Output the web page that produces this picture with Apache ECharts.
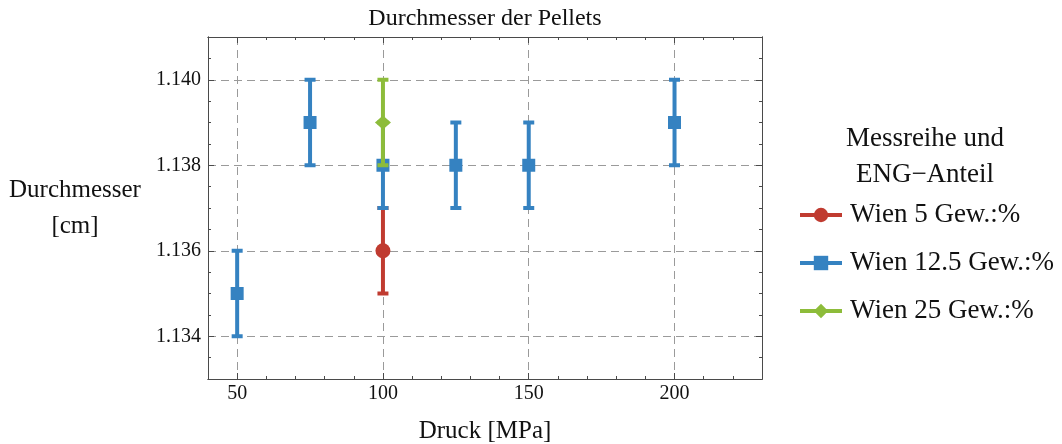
<!DOCTYPE html>
<html>
<head>
<meta charset="utf-8">
<script src="https://cdn.jsdelivr.net/npm/echarts@6/dist/echarts.min.js"></script>
<style>html,body{margin:0;padding:0;background:#fff}#c{width:1062px;height:444px}</style>
</head>
<body>
<div id="c"></div>
<script>
// ---- data ----
const seriesNames = ['Wien 5 Gew.:%', 'Wien 12.5 Gew.:%', 'Wien 25 Gew.:%'];
const pressure5 = [100];
const diameter5 = [1.136];
const error5 = [0.001];
const pressure12 = [50, 75, 100, 125, 150, 200];
const diameter12 = [1.135, 1.139, 1.138, 1.138, 1.138, 1.139];
const error12 = [0.001, 0.001, 0.001, 0.001, 0.001, 0.001];
const pressure25 = [100];
const diameter25 = [1.139];
const error25 = [0.001];
const xMajorTicks = [50, 100, 150, 200];
const yMajorTicks = [1.134, 1.136, 1.138, 1.140];

const colors = ['#c03b30', '#3582c1', '#8dbc3a'];
const symbols = ['circle', 'rect', 'diamond'];
const symbolSizes = [15, 13, [16, 14]];
const FONT = 'Liberation Serif';
const frameColor = '#4a4a4a';

const groups = [
  [pressure5, diameter5, error5],
  [pressure12, diameter12, error12],
  [pressure25, diameter25, error25]
];

function errRender(color) {
  return function (params, api) {
    const x = api.value(0), y = api.value(1), e = api.value(2);
    const top = api.coord([x, y + e]);
    const bot = api.coord([x, y - e]);
    const st = { stroke: color, lineWidth: 4 };
    const hw = 5.5;
    return {
      type: 'group',
      children: [
        { type: 'line', shape: { x1: top[0], y1: top[1], x2: bot[0], y2: bot[1] }, style: st },
        { type: 'line', shape: { x1: top[0] - hw, y1: top[1], x2: top[0] + hw, y2: top[1] }, style: st },
        { type: 'line', shape: { x1: bot[0] - hw, y1: bot[1], x2: bot[0] + hw, y2: bot[1] }, style: st }
      ]
    };
  };
}

const series = [];
groups.forEach(function (g, i) {
  const [xs, ys, es] = g;
  series.push({
    name: 'err' + i,
    type: 'custom',
    xAxisIndex: 0, yAxisIndex: 0,
    renderItem: errRender(colors[i]),
    data: xs.map(function (x, k) { return [x, ys[k], es[k]]; }),
    z: 2 + i * 2
  });
  series.push({
    name: seriesNames[i],
    type: 'line',
    xAxisIndex: 0, yAxisIndex: 0,
    symbol: symbols[i],
    symbolSize: symbolSizes[i],
    showSymbol: true,
    itemStyle: { color: colors[i], opacity: 1 },
    lineStyle: { color: colors[i], width: 4, opacity: 0 },
    data: xs.map(function (x, k) { return [x, ys[k]]; }),
    z: 3 + i * 2
  });
});

const xMin = 40, xMax = 230, yMin = 1.133, yMax = 1.141;

function xAxisDef(pos, major, labels) {
  return {
    type: 'value', position: pos, min: xMin, max: xMax, interval: 10,
    axisLine: { show: true, onZero: false, lineStyle: { color: frameColor, width: 1 } },
    axisTick: major
      ? { show: true, inside: true, length: 6, customValues: xMajorTicks, lineStyle: { color: frameColor } }
      : { show: true, inside: true, length: 3, lineStyle: { color: frameColor } },
    axisLabel: labels
      ? { show: true, customValues: xMajorTicks, color: '#111', fontFamily: FONT, fontSize: 20, margin: 5 }
      : { show: false },
    splitLine: (major && pos === 'bottom')
      ? { show: true, lineStyle: { color: '#9a9a9a', type: [8, 5], width: 1 } }
      : { show: false },
    name: labels ? 'Druck [MPa]' : '',
    nameLocation: 'middle', nameGap: 52,
    nameTextStyle: { color: '#111', fontFamily: FONT, fontSize: 25, align: 'center', verticalAlign: 'middle' }
  };
}
function yAxisDef(pos, major, labels) {
  return {
    type: 'value', position: pos, min: yMin, max: yMax, interval: 0.0005,
    axisLine: { show: true, onZero: false, lineStyle: { color: frameColor, width: 1 } },
    axisTick: major
      ? { show: true, inside: true, length: 6, customValues: yMajorTicks, lineStyle: { color: frameColor } }
      : { show: true, inside: true, length: 3, lineStyle: { color: frameColor } },
    axisLabel: labels
      ? { show: true, customValues: yMajorTicks, color: '#111', fontFamily: FONT, fontSize: 20, margin: 7,
          formatter: function (v) { return Number(v).toFixed(3); } }
      : { show: false },
    splitLine: (major && pos === 'left')
      ? { show: true, lineStyle: { color: '#9a9a9a', type: [8, 5], width: 1 } }
      : { show: false },
    name: labels ? 'Durchmesser\n[cm]' : '',
    nameLocation: 'middle', nameGap: 133, nameRotate: 0,
    nameTextStyle: { color: '#111', fontFamily: FONT, fontSize: 25, lineHeight: 36, align: 'center', verticalAlign: 'middle' }
  };
}

const chart = echarts.init(document.getElementById('c'), null, { renderer: 'canvas' });
chart.setOption({
  animation: false,
  backgroundColor: '#fff',
  title: {
    text: 'Durchmesser der Pellets',
    left: 485, top: 7, textAlign: 'center', padding: 0,
    textStyle: { color: '#111', fontFamily: FONT, fontSize: 24, fontWeight: 'normal' }
  },
  grid: { left: 208, top: 37, right: 300, bottom: 65, containLabel: false, outerBoundsMode: 'none' },
  xAxis: [
    xAxisDef('bottom', false, true),
    xAxisDef('bottom', true, false),
    xAxisDef('top', false, false),
    xAxisDef('top', true, false)
  ],
  yAxis: [
    yAxisDef('left', false, true),
    yAxisDef('left', true, false),
    yAxisDef('right', false, false),
    yAxisDef('right', true, false)
  ],
  legend: {
    data: seriesNames,
    orient: 'vertical',
    left: 793, top: 196,
    itemWidth: 42, itemHeight: 18, itemGap: 20,
    lineStyle: { width: 4, opacity: 1 },
    textStyle: { color: '#111', fontFamily: FONT, fontSize: 27, lineHeight: 28, padding: [0, 0, 0, 3] }
  },
  graphic: [{
    type: 'text', x: 925, y: 121,
    style: {
      text: 'Messreihe und\nENG\u2212Anteil',
      fill: '#111', font: '27px "Liberation Serif"', lineHeight: 36, align: 'center', verticalAlign: 'top'
    }
  }],
  series: series
});
</script>
</body>
</html>
